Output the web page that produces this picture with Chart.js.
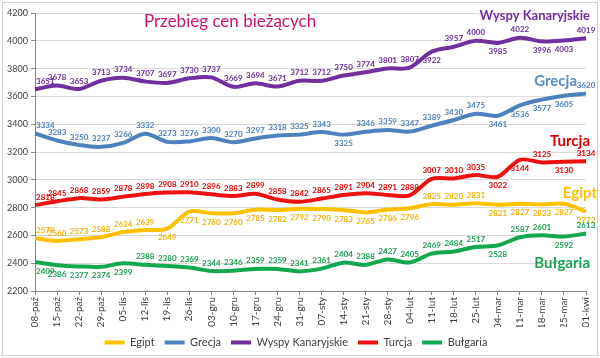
<!DOCTYPE html>
<html>
<head>
<meta charset="utf-8">
<script src="https://cdn.jsdelivr.net/npm/chart.js@4/dist/chart.umd.min.js"></script>
<style>
html,body{margin:0;padding:0;background:#fff;}
#wrap{width:600px;height:358px;position:relative;}
</style>
</head>
<body>
<div id="wrap"><canvas id="c" width="600" height="358"></canvas></div>
<script>
const categories = ['08-paź','15-paź','22-paź','29-paź','05-lis','12-lis','19-lis','26-lis','03-gru','10-gru','17-gru','24-gru','31-gru','07-sty','14-sty','21-sty','28-sty','04-lut','11-lut','18-lut','25-lut','04-mar','11-mar','18-mar','25-mar','01-kwi'];
const egipt    = [2579,2560,2573,2588,2624,2639,2649,2771,2760,2760,2785,2782,2792,2790,2783,2765,2786,2796,2825,2820,2831,2821,2827,2823,2827,2772];
const grecja   = [3334,3283,3250,3237,3266,3332,3273,3276,3300,3270,3297,3318,3325,3343,3325,3346,3359,3347,3389,3430,3475,3461,3536,3577,3605,3620];
const wyspy    = [3651,3678,3653,3713,3734,3707,3697,3730,3737,3669,3694,3671,3712,3712,3750,3774,3801,3807,3922,3957,4000,3985,4022,3996,4003,4019];
const turcja   = [2818,2845,2868,2859,2878,2898,2908,2910,2896,2883,2899,2858,2842,2865,2891,2904,2891,2888,3007,3010,3035,3022,3144,3125,3130,3134];
const bulgaria = [2409,2386,2377,2374,2399,2388,2380,2369,2344,2346,2359,2359,2341,2361,2404,2388,2427,2405,2469,2484,2517,2528,2587,2601,2592,2613];
const yTicks = [2200,2400,2600,2800,3000,3200,3400,3600,3800,4000,4200];

const FONT = 'Lato, "Open Sans", sans-serif';

// which data labels sit below their point (placement style)
const below = {
  'Egipt': [6,7,8,9,10,11,12,13,14,15,16,17,21,22,23,24,25],
  'Grecja': [14,21,22,23,24],
  'Wyspy Kanaryjskie': [18,21,23,24],
  'Turcja': [21,22,24],
  'Bułgaria': [0,1,2,3,4,21,24]
};

function ds(label, data, color, labelColor) {
  return {label, data, borderColor: color, backgroundColor: color, labelColor,
    borderWidth: 4, pointRadius: 0, pointHoverRadius: 0, tension: 0.3, fill: false};
}

const dataLabelPlugin = {
  id: 'dataLabels',
  afterDatasetsDraw(chart) {
    const ctx = chart.ctx, area = chart.chartArea;
    ctx.save();
    ctx.font = 'bold 8px ' + FONT;
    ctx.textAlign = 'center';
    ctx.textBaseline = 'middle';
    chart.data.datasets.forEach((d, di) => {
      const meta = chart.getDatasetMeta(di);
      const bl = below[d.label] || [];
      ctx.fillStyle = d.labelColor;
      meta.data.forEach((pt, i) => {
        const txt = String(d.data[i]);
        const w = ctx.measureText(txt).width;
        let x = Math.max(pt.x, area.left + w / 2 + 1);
        const y = bl.includes(i) ? pt.y + 9 : pt.y - 8;
        ctx.fillText(txt, x, y);
      });
    });
    ctx.restore();
  }
};

const decoPlugin = {
  id: 'deco',
  beforeDraw(chart) {
    const ctx = chart.ctx;
    ctx.save();
    ctx.fillStyle = '#fff';
    ctx.fillRect(0, 0, chart.width, chart.height);
    ctx.strokeStyle = '#d0d0d0';
    ctx.lineWidth = 1;
    ctx.strokeRect(2.5, 2.5, chart.width - 5, chart.height - 5);
    ctx.restore();
  },
  afterDraw(chart) {
    const ctx = chart.ctx;
    ctx.save();
    ctx.textBaseline = 'middle';
    ctx.textAlign = 'center';
    ctx.fillStyle = '#C8146E';
    ctx.font = '17px ' + FONT;
    ctx.fillText('Przebieg cen bieżących', 230, 22);
    ctx.textAlign = 'right';
    ctx.font = 'bold 13px ' + FONT;
    ctx.fillStyle = '#7030A0';
    ctx.fillText('Wyspy Kanaryjskie', 590, 16);
    ctx.font = 'bold 15px ' + FONT;
    ctx.fillStyle = '#5B8BC9';
    ctx.fillText('Grecja', 577, 81);
    ctx.fillStyle = '#E00000';
    ctx.fillText('Turcja', 590, 141);
    ctx.fillStyle = '#FFC000';
    ctx.fillText('Egipt', 597, 193);
    ctx.fillStyle = '#1AA553';
    ctx.fillText('Bułgaria', 590, 263);
    ctx.restore();
  }
};

new Chart(document.getElementById('c'), {
  type: 'line',
  data: {
    labels: categories,
    datasets: [
      ds('Egipt', egipt, '#FFC000', '#F2B200'),
      ds('Grecja', grecja, '#4F81BD', '#4F7DB8'),
      ds('Wyspy Kanaryjskie', wyspy, '#7030A0', '#6A2E9A'),
      ds('Turcja', turcja, '#EE1111', '#E00000'),
      ds('Bułgaria', bulgaria, '#12A850', '#189E50')
    ]
  },
  options: {
    responsive: false,
    animation: false,
    devicePixelRatio: 1,
    layout: {padding: {left: 4, right: 12, top: 13, bottom: 0}},
    plugins: {
      tooltip: {enabled: false},
      legend: {
        position: 'bottom',
        labels: {
          usePointStyle: true, pointStyle: 'line', pointStyleWidth: 20, boxHeight: 8,
          color: '#404040', font: {family: FONT, size: 11}, padding: 10
        }
      }
    },
    scales: {
      x: {
        grid: {drawOnChartArea: false, drawTicks: true, tickLength: 4, color: '#888'},
        border: {color: '#888'},
        ticks: {minRotation: 90, maxRotation: 90, autoSkip: false, color: '#404040',
                font: {family: FONT, size: 10}, padding: 2},
        afterFit(s) { s.height = 36; }
      },
      y: {
        min: 2200, max: 4200,
        afterBuildTicks(s) { s.ticks = yTicks.map(v => ({value: v})); },
        grid: {color: '#d9d9d9', tickLength: 4, tickColor: '#888'},
        border: {color: '#888'},
        ticks: {color: '#404040', font: {family: FONT, size: 9}, padding: 3,
                callback: v => String(v)},
        afterFit(s) { s.width = 31; }
      }
    }
  },
  plugins: [dataLabelPlugin, decoPlugin]
});
</script>
</body>
</html>
